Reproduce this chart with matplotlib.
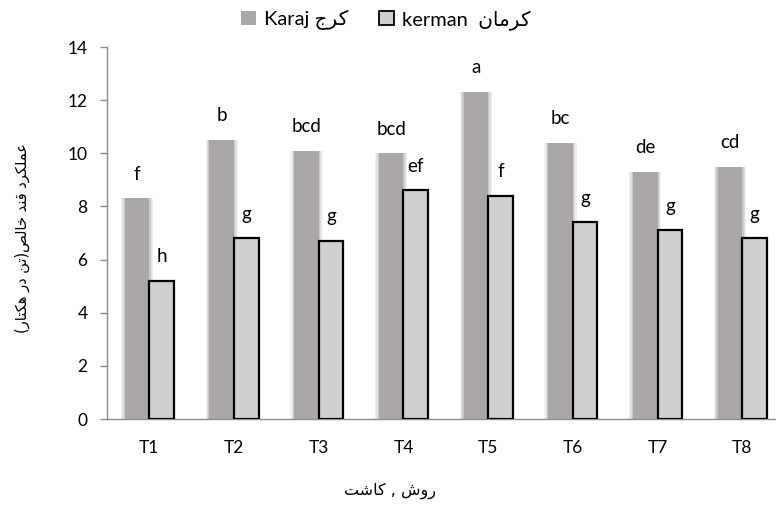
import numpy as np
import matplotlib
matplotlib.use('Agg')
from matplotlib import pyplot as plt
from matplotlib.patches import Patch

plt.rcParams['font.family'] = ['Lato', 'DejaVu Sans']

treatments = ['T1', 'T2', 'T3', 'T4', 'T5', 'T6', 'T7', 'T8']
karaj = [8.3, 10.5, 10.1, 10.0, 12.3, 10.4, 9.3, 9.5]
kerman = [5.2, 6.8, 6.7, 8.6, 8.4, 7.4, 7.1, 6.8]
karaj_letters = ['f', 'b', 'bcd', 'bcd', 'a', 'bc', 'de', 'cd']
kerman_letters = ['h', 'g', 'g', 'ef', 'f', 'g', 'g', 'g']

y_title = 'عملکرد قند خالص(تن در هکتار)'
x_title = 'روش , کاشت'
karaj_fa = 'کرج'
kerman_fa = 'کرمان'

# presentation forms: isolated, final, initial, medial
FORMS = {
    'ا': (0xFE8D, 0xFE8E), 'د': (0xFEA9, 0xFEAA), 'ر': (0xFEAD, 0xFEAE),
    'و': (0xFEED, 0xFEEE),
    'ت': (0xFE95, 0xFE96, 0xFE97, 0xFE98), 'ج': (0xFE9D, 0xFE9E, 0xFE9F, 0xFEA0),
    'خ': (0xFEA5, 0xFEA6, 0xFEA7, 0xFEA8), 'ش': (0xFEB5, 0xFEB6, 0xFEB7, 0xFEB8),
    'ص': (0xFEB9, 0xFEBA, 0xFEBB, 0xFEBC), 'ع': (0xFEC9, 0xFECA, 0xFECB, 0xFECC),
    'ق': (0xFED5, 0xFED6, 0xFED7, 0xFED8), 'ل': (0xFEDD, 0xFEDE, 0xFEDF, 0xFEE0),
    'م': (0xFEE1, 0xFEE2, 0xFEE3, 0xFEE4), 'ن': (0xFEE5, 0xFEE6, 0xFEE7, 0xFEE8),
    'ه': (0xFEE9, 0xFEEA, 0xFEEB, 0xFEEC), 'ک': (0xFB8E, 0xFB8F, 0xFB90, 0xFB91),
}
MIRROR = {'(': ')', ')': '('}


def fa(text):
    # join letters and lay the string out right to left
    out = []
    for i, ch in enumerate(text):
        if ch not in FORMS:
            out.append(MIRROR.get(ch, ch))
            continue
        prev = text[i - 1] if i > 0 else ''
        nxt = text[i + 1] if i + 1 < len(text) else ''
        j_prev = prev in FORMS and len(FORMS[prev]) == 4
        j_next = len(FORMS[ch]) == 4 and nxt in FORMS
        f = FORMS[ch]
        if j_prev and j_next:
            out.append(chr(f[3]))
        elif j_prev:
            out.append(chr(f[1]))
        elif j_next:
            out.append(chr(f[2]))
        else:
            out.append(chr(f[0]))
    return ''.join(reversed(out))


karaj_color = '#aba7a7'
kerman_color = '#d0cecf'
axis_color = '#8c8c8c'

fig = plt.figure(figsize=(7.76, 5.07), dpi=100)
ax = fig.add_axes([107 / 776, 88 / 507, 8 * 84.7 / 776, 372 / 507])

x = np.arange(len(treatments))
w = 0.29

# soft shadow round the Karaj bars
for k, a in [(0.09, 0.10), (0.06, 0.14), (0.03, 0.2)]:
    ax.bar(x - w / 2, karaj, w + k, color='#777777', alpha=a, linewidth=0, zorder=1)
ax.bar(x - w / 2, [0.08] * len(x), w, bottom=-0.06, color='#222222', alpha=0.5,
       linewidth=0, zorder=1)
b1 = ax.bar(x - w / 2, karaj, w, color=karaj_color, linewidth=0, zorder=2)
b2 = ax.bar(x + w / 2, kerman, w, color=kerman_color, edgecolor='black',
            linewidth=1.6, zorder=3)

for xi, v, s in zip(x, karaj, karaj_letters):
    ax.annotate(s, (xi - w / 2, v), xytext=(0, 13.5), textcoords='offset points',
                ha='center', va='baseline', fontsize=13.5)
for xi, v, s in zip(x, kerman, kerman_letters):
    ax.annotate(s, (xi + w / 2, v), xytext=(0, 13.5), textcoords='offset points',
                ha='center', va='baseline', fontsize=13.5)

ax.set_xlim(-0.5, 7.5)
ax.set_ylim(0, 14)
ax.set_yticks(range(0, 15, 2))
ax.set_xticks(x)
ax.set_xticklabels(treatments)
ax.tick_params(axis='x', length=0, pad=15, labelsize=12.5)
ax.tick_params(axis='y', length=5, width=1, color=axis_color, pad=9, labelsize=12.5)
for side in ['top', 'right']:
    ax.spines[side].set_visible(False)
for side in ['left', 'bottom']:
    ax.spines[side].set_color(axis_color)
    ax.spines[side].set_linewidth(1)

fig.text(22 / 776, 1 - 238 / 507, fa(y_title), rotation=90, ha='center', va='center',
         fontsize=10.5, family=['DejaVu Sans'])
fig.text(390 / 776, 1 - 491 / 507, fa(x_title), ha='center', va='center',
         fontsize=11.5, family=['DejaVu Sans'])

handles = [Patch(facecolor=karaj_color, edgecolor='none'),
           Patch(facecolor=kerman_color, edgecolor='black', linewidth=1.3)]
labels = ['Karaj ' + fa(karaj_fa), 'kerman  ' + fa(kerman_fa)]
fig.legend(handles, labels, loc='center', bbox_to_anchor=(386 / 776, 1 - 20 / 507),
           ncol=2, frameon=False, handlelength=0.75, handleheight=0.75,
           handletextpad=0.4, columnspacing=1.5,
           prop={'family': ['Lato', 'DejaVu Sans'], 'size': 14.5})

fig.savefig('out.png', dpi=100)
